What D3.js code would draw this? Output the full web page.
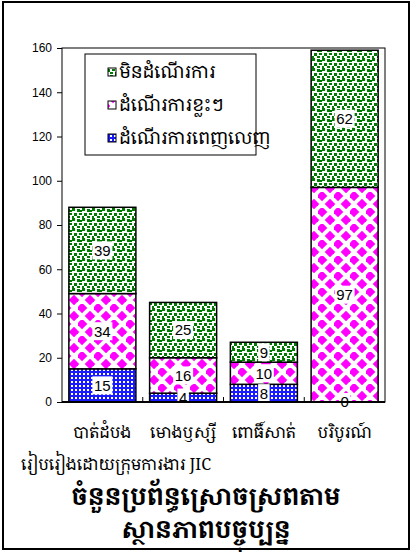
<!DOCTYPE html>
<html>
<head>
<meta charset="utf-8">
<script src="https://cdn.jsdelivr.net/npm/d3@7"></script>
<style>
  body { margin: 0; background: #fff; }
  svg text { font-family: "Liberation Sans", Arial, sans-serif; }
  .kh { font-family: "Khmer OS", "Noto Serif Khmer", "Noto Sans Khmer", "Noto Sans", sans-serif; }
</style>
</head>
<body>
<div class="chart"></div>
<script>
// provinces
var categories = ['បាត់ដំបង', 'មោងឫស្សី', 'ពោធិ៍សាត់', 'បរិបូរណ៍'];
// series, bottom to top
var seriesNames = ['ដំណើរការពេញលេញ', 'ដំណើរការខ្លះៗ', 'មិនដំណើរការ'];
var fullValues = [15, 4, 8, 0];
var partValues = [34, 16, 10, 97];
var noneValues = [39, 25, 9, 62];
var yTicks = [0, 20, 40, 60, 80, 100, 120, 140, 160];

var W = 413, H = 552;
var margin = { top: 48, right: 28, bottom: 150, left: 62 };
var width = 385 - margin.left;
var height = 402 - margin.top;

var svg = d3.select('.chart')
  .append('svg')
  .attr('width', W)
  .attr('height', H);

// patterns
var defs = svg.append('defs');

var pBlue = defs.append('pattern').attr('id', 'pBlue')
  .attr('patternUnits', 'userSpaceOnUse').attr('width', 4).attr('height', 4);
pBlue.append('rect').attr('width', 4).attr('height', 4).attr('fill', '#1a1aff');
pBlue.append('rect').attr('x', 1).attr('y', 1).attr('width', 2).attr('height', 2).attr('fill', '#ffffff');

var pMag = defs.append('pattern').attr('id', 'pMag')
  .attr('patternUnits', 'userSpaceOnUse').attr('width', 16).attr('height', 16);
pMag.append('rect').attr('width', 16).attr('height', 16).attr('fill', '#fff');
[[4, 4], [12, 12], [-4, 12], [12, -4], [20, 12], [12, 20], [-4, -4], [20, 20], [20, -4], [-4, 20]].forEach(function(c) {
  var r = 5.3;
  pMag.append('path')
    .attr('d', 'M' + c[0] + ',' + (c[1] - r) + 'L' + (c[0] + r) + ',' + c[1] + 'L' + c[0] + ',' + (c[1] + r) + 'L' + (c[0] - r) + ',' + c[1] + 'Z')
    .attr('fill', '#ff00ff');
});

var pGreen = defs.append('pattern').attr('id', 'pGreen')
  .attr('patternUnits', 'userSpaceOnUse').attr('width', 10).attr('height', 10);
pGreen.append('rect').attr('width', 10).attr('height', 10).attr('fill', '#fff');
[[0, 0, 3, 3], [5, 1, 3, 3], [2, 5, 3, 3], [7, 5, 3, 2], [0, 8, 2, 2], [5, 8, 3, 2], [8, 2, 2, 2]].forEach(function(s) {
  pGreen.append('rect').attr('x', s[0]).attr('y', s[1]).attr('width', s[2]).attr('height', s[3]).attr('fill', '#007a00');
});

var fills = ['url(#pBlue)', 'url(#pMag)', 'url(#pGreen)'];

// outer frame
svg.append('rect')
  .attr('x', 3).attr('y', 2).attr('width', 406).attr('height', 547)
  .attr('fill', 'none').attr('stroke', '#000').attr('stroke-width', 2);

var g = svg.append('g')
  .attr('transform', 'translate(' + margin.left + ',' + margin.top + ')');

var xScale = d3.scaleBand()
  .domain(categories)
  .range([0, width])
  .paddingInner(0.17)
  .paddingOuter(0.085);

var yScale = d3.scaleLinear()
  .domain([0, 160])
  .range([height, 0]);

// plot frame
g.append('rect')
  .attr('width', width).attr('height', height)
  .attr('fill', 'none').attr('stroke', '#000').attr('stroke-width', 1);

// stack
var rows = categories.map(function(c, i) {
  return { cat: c, s0: fullValues[i], s1: partValues[i], s2: noneValues[i] };
});
var stacked = d3.stack().keys(['s0', 's1', 's2'])(rows);

var layer = g.selectAll('.layer')
  .data(stacked)
  .enter()
  .append('g')
  .attr('class', 'layer')
  .attr('fill', (d, i) => fills[i]);

layer.selectAll('rect')
  .data(d => d)
  .enter()
  .append('rect')
  .attr('x', d => xScale(d.data.cat))
  .attr('y', d => yScale(d[1]))
  .attr('width', xScale.bandwidth())
  .attr('height', d => yScale(d[0]) - yScale(d[1]))
  .attr('stroke', '#000')
  .attr('stroke-width', 1.5);

// value labels with white boxes
stacked.forEach(function(s) {
  s.forEach(function(d) {
    var v = d[1] - d[0];
    var cx = xScale(d.data.cat) + xScale.bandwidth() / 2;
    var cy = yScale((d[0] + d[1]) / 2);
    var w = String(v).length * 8.5 + 3;
    g.append('rect')
      .attr('x', cx - w / 2).attr('y', cy - 9)
      .attr('width', w).attr('height', 18)
      .attr('fill', '#fff');
    g.append('text')
      .attr('x', cx).attr('y', cy)
      .attr('dy', '0.36em')
      .attr('text-anchor', 'middle')
      .style('font-size', '15px')
      .text(v);
  });
});

// y axis
var yAxis = g.append('g')
  .call(d3.axisLeft(yScale).tickValues(yTicks).tickSize(5).tickPadding(5));
yAxis.select('.domain').remove();
yAxis.selectAll('text').style('font-size', '12px').attr('fill', '#000');
yAxis.selectAll('line').attr('stroke', '#000');

// x axis line and inner ticks at category boundaries
g.append('line')
  .attr('x1', 0).attr('x2', width)
  .attr('y1', height).attr('y2', height)
  .attr('stroke', '#000').attr('stroke-width', 2);
var step = xScale.step();
d3.range(1, categories.length).forEach(function(k) {
  var bx = xScale(categories[k]) - xScale.paddingInner() * step / 2;
  g.append('line')
    .attr('x1', bx).attr('x2', bx)
    .attr('y1', height).attr('y2', height - 5)
    .attr('stroke', '#000');
});

// category labels
g.selectAll('.cat')
  .data(categories)
  .enter()
  .append('text')
  .attr('class', 'cat kh')
  .attr('x', d => xScale(d) + xScale.bandwidth() / 2)
  .attr('y', height + 36)
  .attr('text-anchor', 'middle')
  .style('font-size', '16px')
  .text(d => d);

// legend
var lg = svg.append('g').attr('transform', 'translate(85,54)');
lg.append('rect')
  .attr('width', 171).attr('height', 101)
  .attr('fill', '#fff').attr('stroke', '#000').attr('stroke-width', 1);
var legendOrder = [2, 1, 0];
legendOrder.forEach(function(si, j) {
  var ly = 18 + j * 33;
  lg.append('rect')
    .attr('x', 23).attr('y', ly - 4)
    .attr('width', 8).attr('height', 8)
    .attr('fill', fills[si]).attr('stroke', '#000').attr('stroke-width', 1);
  lg.append('text')
    .attr('class', 'kh')
    .attr('x', 34).attr('y', ly)
    .attr('dy', '0.35em')
    .style('font-size', '18px')
    .text(seriesNames[si]);
});

// source note and title
svg.append('text')
  .attr('class', 'kh')
  .attr('x', 21).attr('y', 470)
  .style('font-size', '16px')
  .text('រៀបរៀងដោយក្រុមការងារ JIC');

svg.append('text')
  .attr('class', 'kh')
  .attr('x', 206).attr('y', 505)
  .attr('text-anchor', 'middle')
  .style('font-size', '24px')
  .style('font-weight', 'bold')
  .text('ចំនួនប្រព័ន្ធស្រោចស្រពតាម');

svg.append('text')
  .attr('class', 'kh')
  .attr('x', 206).attr('y', 538)
  .attr('text-anchor', 'middle')
  .style('font-size', '24px')
  .style('font-weight', 'bold')
  .text('ស្ថានភាពបច្ចុប្បន្ន');
</script>
</body>
</html>
